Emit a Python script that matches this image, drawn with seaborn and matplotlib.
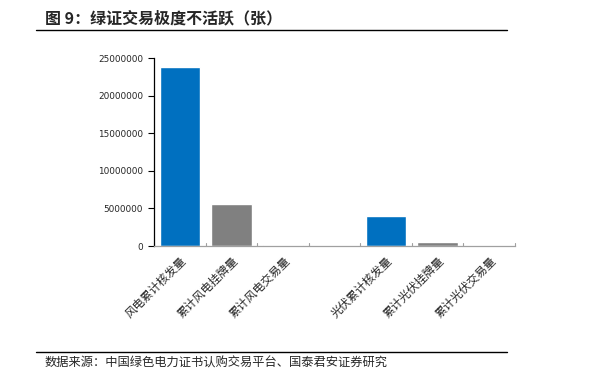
import pandas as pd
import numpy as np
import matplotlib
matplotlib.use('Agg')
import matplotlib.pyplot as plt
import seaborn as sns

categories = ['风电累计核发量', '累计风电挂牌量', '累计风电交易量', '',
              '光伏累计核发量', '累计光伏挂牌量', '累计光伏交易量']
values = [23800000, 5600000, 80000, np.nan, 3990000, 570000, 8000]
colors = ['#0070C0', '#808080', '#A0403C', '#FFFFFF', '#0070C0', '#808080', '#A0403C']
yticks = [0, 5000000, 10000000, 15000000, 20000000, 25000000]

sns.set_style('white')
plt.rcParams['font.family'] = ['Noto Sans CJK SC', 'DejaVu Sans']

df = pd.DataFrame({'cat': categories, 'val': values})

fig = plt.figure(figsize=(6, 3.85), dpi=100)
ax = fig.add_axes([0.257, 0.361, 0.601, 0.488])
sns.barplot(data=df, x='cat', y='val', hue='cat', palette=colors, legend=False,
            width=0.78, saturation=1, ax=ax)

ax.set_ylim(0, 25000000)
ax.set_yticks(yticks)
ax.set_yticklabels([str(v) for v in yticks], fontsize=6.4, family='DejaVu Sans')
ax.set_xlabel('')
ax.set_ylabel('')
ax.set_xticks(range(len(categories)))
ax.set_xticklabels(categories, rotation=45, ha='right', rotation_mode='anchor', fontsize=8.3)
ax.tick_params(axis='x', which='both', length=0, pad=6)
ax.tick_params(axis='y', direction='out', length=4, width=0.8, color='black', left=True, pad=4)

# category separators on x axis
for x in np.arange(-0.5, len(categories) + 0.5, 1.0):
    ax.plot([x, x], [0, 350000], color='#A0A0A0', lw=0.8, clip_on=False)

for s in ['top', 'right']:
    ax.spines[s].set_visible(False)
ax.spines['left'].set_color('black')
ax.spines['left'].set_linewidth(0.9)
ax.spines['bottom'].set_color('#A0A0A0')
ax.spines['bottom'].set_linewidth(0.9)
ax.set_xlim(-0.5, len(categories) - 0.5)

# title and source
fig.text(0.075, 0.952, '图 9：绿证交易极度不活跃（张）', fontsize=11.5, fontweight='bold', va='center')
fig.add_artist(plt.Line2D([0.06, 0.845], [0.922, 0.922], color='black', lw=1.0))
fig.add_artist(plt.Line2D([0.06, 0.845], [0.086, 0.086], color='black', lw=1.0))
fig.text(0.074, 0.058, '数据来源：中国绿色电力证书认购交易平台、国泰君安证券研究', fontsize=8.8, va='center')

fig.savefig('out.png', dpi=100)
